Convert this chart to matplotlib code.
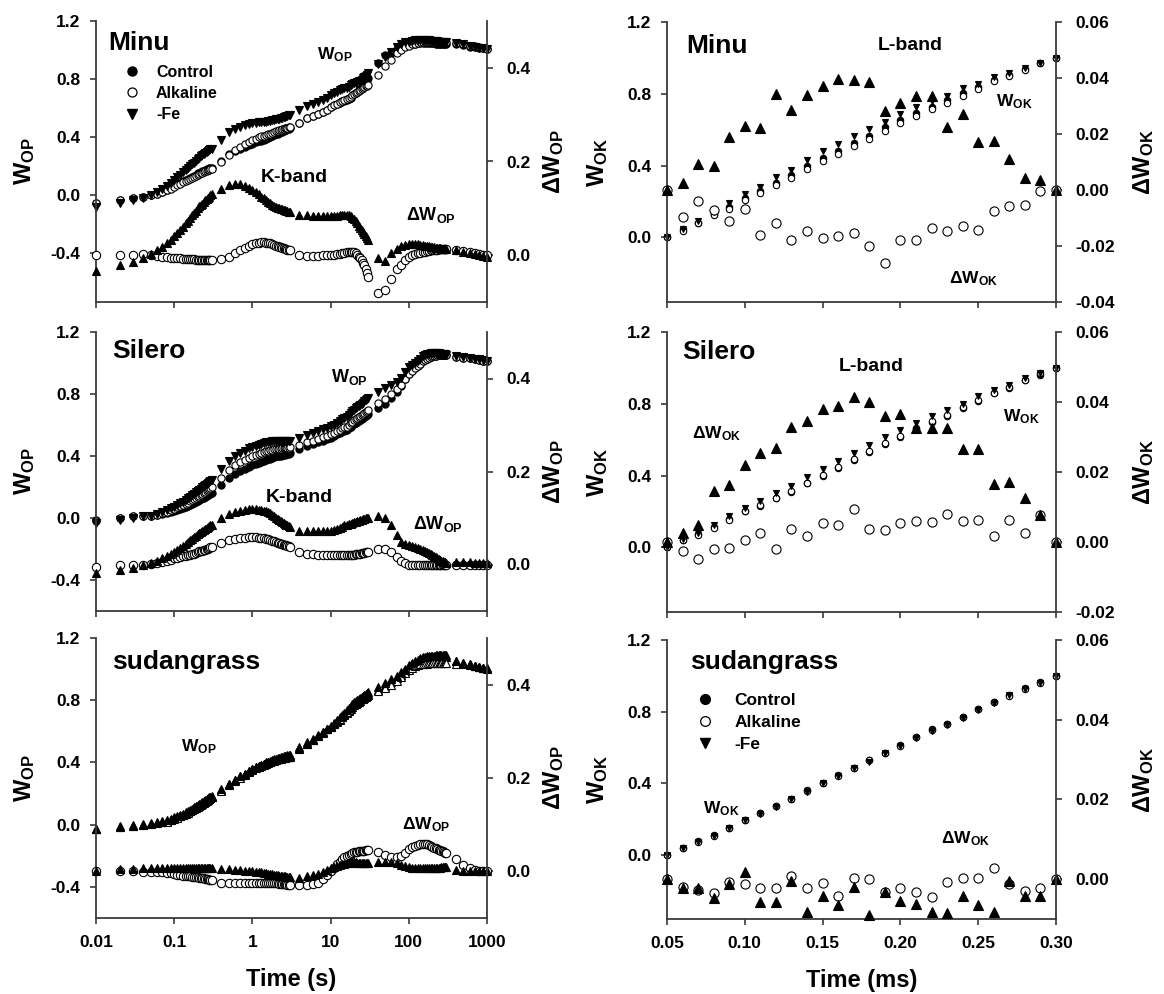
import matplotlib
matplotlib.use('Agg')
import matplotlib.pyplot as plt
from matplotlib.lines import Line2D
from matplotlib.ticker import FixedLocator, FixedFormatter, NullLocator

plt.rcParams['font.family'] = ['Liberation Sans', 'DejaVu Sans']
plt.rcParams['font.weight'] = 'bold'
plt.rcParams['mathtext.fontset'] = 'custom'
plt.rcParams['mathtext.rm'] = 'Liberation Sans'
plt.rcParams['mathtext.bf'] = 'Liberation Sans:bold'
plt.rcParams['mathtext.it'] = 'Liberation Sans:bold'

# ---------------- data: O-P phase (left column), time in the units of the axis label
time_op = [0.01, 0.02, 0.03, 0.04, 0.05, 0.06, 0.07, 0.08, 0.09, 0.10,
           0.11, 0.12, 0.13, 0.14, 0.15, 0.16, 0.17, 0.18, 0.19, 0.20,
           0.21, 0.22, 0.23, 0.24, 0.25, 0.26, 0.27, 0.28, 0.29, 0.30,
           0.4, 0.5, 0.6, 0.7, 0.8, 0.9, 1.0, 1.1, 1.2, 1.3, 1.4, 1.5, 1.6, 1.7,
           1.8, 1.9, 2.0, 2.1, 2.2, 2.3, 2.4, 2.5, 2.6, 2.7, 2.8, 2.9, 3.0,
           4, 5, 6, 7, 8, 9, 10, 11, 12, 13, 14, 15, 16, 17, 18, 19, 20,
           21, 22, 23, 24, 25, 26, 27, 28, 29, 30,
           40, 50, 60, 70, 80, 90, 100, 110, 120, 130, 140, 150, 160, 170,
           180, 190, 200, 210, 220, 230, 240, 250, 260, 270, 280, 290, 300,
           400, 500, 600, 700, 800, 900, 1000]

minu_wop_control = [
    -0.05, -0.03, -0.02, -0.012, 0.0, 0.012, 0.023, 0.039, 0.05, 0.066,
    0.077, 0.087, 0.098, 0.108, 0.114, 0.119, 0.129, 0.134, 0.14, 0.15,
    0.155, 0.16, 0.165, 0.17, 0.175, 0.18, 0.182, 0.185, 0.188, 0.19,
    0.239, 0.283, 0.306, 0.32, 0.335, 0.345, 0.356, 0.364, 0.373, 0.377,
    0.382, 0.388, 0.394, 0.40, 0.407, 0.413, 0.42, 0.424, 0.428, 0.433,
    0.437, 0.441, 0.446, 0.45, 0.454, 0.457, 0.46,
    0.50, 0.532, 0.547, 0.561, 0.575, 0.59, 0.61, 0.619, 0.628, 0.637,
    0.646, 0.65, 0.654, 0.663, 0.673, 0.683, 0.694, 0.701, 0.709, 0.723,
    0.731, 0.74, 0.756, 0.767, 0.78, 0.793, 0.806,
    0.91, 0.965, 0.98, 1.01, 1.02, 1.03, 1.033, 1.04, 1.043, 1.046,
    1.047, 1.049, 1.048, 1.048, 1.047, 1.047, 1.047, 1.046, 1.045, 1.045,
    1.043, 1.043, 1.043, 1.042, 1.042, 1.042, 1.042,
    1.04, 1.032, 1.024, 1.021, 1.017, 1.014, 1.01]
minu_wop_alkaline = [
    -0.05, -0.03, -0.02, -0.01, 0.0, 0.01, 0.02, 0.035, 0.045, 0.06,
    0.07, 0.08, 0.09, 0.10, 0.105, 0.11, 0.12, 0.125, 0.13, 0.14,
    0.145, 0.15, 0.155, 0.16, 0.165, 0.17, 0.172, 0.175, 0.178, 0.18,
    0.23, 0.28, 0.31, 0.33, 0.35, 0.365, 0.38, 0.39, 0.40, 0.405,
    0.41, 0.415, 0.42, 0.425, 0.43, 0.435, 0.44, 0.443, 0.446, 0.45,
    0.453, 0.456, 0.46, 0.463, 0.466, 0.468, 0.47,
    0.50, 0.53, 0.545, 0.56, 0.575, 0.59, 0.61, 0.62, 0.63, 0.64,
    0.65, 0.655, 0.66, 0.67, 0.68, 0.69, 0.70, 0.705, 0.71, 0.72,
    0.725, 0.73, 0.74, 0.745, 0.75, 0.755, 0.76,
    0.83, 0.89, 0.93, 0.98, 1.0, 1.02, 1.03, 1.04, 1.045, 1.05,
    1.052, 1.055, 1.055, 1.056, 1.056, 1.057, 1.057, 1.057, 1.057, 1.057,
    1.056, 1.056, 1.056, 1.055, 1.055, 1.055, 1.055,
    1.05, 1.04, 1.03, 1.025, 1.02, 1.015, 1.01]
minu_wop_fe = [
    -0.084, -0.052, -0.034, -0.017, 0.002, 0.022, 0.041, 0.064, 0.082, 0.106,
    0.124, 0.141, 0.159, 0.176, 0.188, 0.199, 0.214, 0.224, 0.235, 0.25,
    0.259, 0.267, 0.275, 0.284, 0.292, 0.30, 0.305, 0.31, 0.316, 0.32,
    0.381, 0.433, 0.459, 0.471, 0.483, 0.489, 0.495, 0.498, 0.503, 0.502,
    0.503, 0.505, 0.508, 0.511, 0.515, 0.518, 0.523, 0.525, 0.528, 0.532,
    0.535, 0.538, 0.542, 0.545, 0.548, 0.55, 0.552,
    0.586, 0.617, 0.631, 0.645, 0.658, 0.673, 0.693, 0.702, 0.712, 0.722,
    0.732, 0.736, 0.74, 0.748, 0.756, 0.763, 0.772, 0.774, 0.777, 0.786,
    0.789, 0.793, 0.805, 0.812, 0.821, 0.83, 0.839,
    0.905, 0.953, 0.984, 1.024, 1.04, 1.052, 1.057, 1.064, 1.066, 1.069,
    1.069, 1.07, 1.068, 1.068, 1.066, 1.065, 1.064, 1.063, 1.061, 1.061,
    1.058, 1.058, 1.057, 1.056, 1.056, 1.055, 1.055,
    1.05, 1.039, 1.028, 1.023, 1.017, 1.012, 1.007]
minu_dwop_alkaline = [
    0.0, 0.0, 0.0, 0.002, 0.0, -0.002, -0.003, -0.004, -0.005, -0.006,
    -0.007, -0.007, -0.008, -0.008, -0.008, -0.009, -0.009, -0.009, -0.01, -0.01,
    -0.01, -0.01, -0.01, -0.01, -0.01, -0.01, -0.01, -0.01, -0.01, -0.01,
    -0.009, -0.003, 0.004, 0.01, 0.015, 0.02, 0.024, 0.026, 0.027, 0.028,
    0.028, 0.027, 0.026, 0.025, 0.023, 0.022, 0.02, 0.019, 0.018, 0.017,
    0.016, 0.015, 0.014, 0.013, 0.012, 0.011, 0.01,
    0.0, -0.002, -0.002, -0.001, 0.0, 0.0, 0.0, 0.001, 0.002, 0.003,
    0.004, 0.005, 0.006, 0.007, 0.007, 0.007, 0.006, 0.004, 0.001, -0.003,
    -0.006, -0.01, -0.016, -0.022, -0.03, -0.038, -0.046,
    -0.08, -0.075, -0.05, -0.03, -0.02, -0.01, -0.003, 0.0, 0.002, 0.004,
    0.005, 0.006, 0.007, 0.008, 0.009, 0.01, 0.01, 0.011, 0.012, 0.012,
    0.013, 0.013, 0.013, 0.013, 0.013, 0.013, 0.013,
    0.01, 0.008, 0.006, 0.004, 0.003, 0.001, 0.0]
minu_dwop_fe = [
    -0.034, -0.022, -0.014, -0.005, 0.002, 0.01, 0.018, 0.025, 0.032, 0.04,
    0.047, 0.054, 0.061, 0.068, 0.074, 0.08, 0.085, 0.09, 0.095, 0.10,
    0.104, 0.107, 0.11, 0.114, 0.117, 0.12, 0.123, 0.125, 0.128, 0.13,
    0.142, 0.15, 0.153, 0.151, 0.148, 0.144, 0.139, 0.134, 0.13, 0.125,
    0.121, 0.117, 0.114, 0.111, 0.108, 0.105, 0.103, 0.101, 0.1, 0.099,
    0.098, 0.097, 0.096, 0.095, 0.094, 0.093, 0.092,
    0.086, 0.085, 0.084, 0.084, 0.083, 0.083, 0.083, 0.083, 0.084, 0.085,
    0.086, 0.086, 0.086, 0.085, 0.083, 0.08, 0.078, 0.073, 0.068, 0.063,
    0.058, 0.053, 0.049, 0.045, 0.041, 0.037, 0.033,
    -0.005, -0.012, 0.004, 0.014, 0.02, 0.022, 0.024, 0.024, 0.023, 0.023,
    0.022, 0.021, 0.02, 0.02, 0.019, 0.018, 0.017, 0.017, 0.016, 0.016,
    0.015, 0.015, 0.014, 0.014, 0.014, 0.013, 0.013,
    0.01, 0.007, 0.004, 0.002, 0.0, -0.002, -0.003]

silero_wop_control = [
    -0.015, 0.0, 0.01, 0.01, 0.012, 0.017, 0.025, 0.033, 0.04, 0.047,
    0.053, 0.06, 0.066, 0.073, 0.08, 0.086, 0.092, 0.098, 0.103, 0.108,
    0.114, 0.12, 0.126, 0.131, 0.136, 0.141, 0.146, 0.152, 0.157, 0.162,
    0.213, 0.258, 0.285, 0.303, 0.317, 0.331, 0.341, 0.348, 0.356, 0.363,
    0.369, 0.375, 0.379, 0.383, 0.388, 0.392, 0.397, 0.399, 0.401, 0.403,
    0.405, 0.407, 0.409, 0.411, 0.413, 0.415, 0.417,
    0.443, 0.467, 0.478, 0.489, 0.499, 0.509, 0.519, 0.529, 0.539, 0.549,
    0.559, 0.564, 0.569, 0.579, 0.589, 0.599, 0.609, 0.615, 0.622, 0.628,
    0.635, 0.641, 0.648, 0.654, 0.66, 0.667, 0.673,
    0.712, 0.737, 0.773, 0.814, 0.853, 0.897, 0.93, 0.951, 0.966, 0.981,
    0.996, 1.011, 1.021, 1.028, 1.035, 1.04, 1.045, 1.047, 1.048, 1.049,
    1.05, 1.05, 1.05, 1.05, 1.05, 1.05, 1.05,
    1.04, 1.035, 1.03, 1.025, 1.02, 1.015, 1.01]
silero_wop_alkaline = [
    -0.02, 0.0, 0.01, 0.01, 0.013, 0.02, 0.03, 0.04, 0.05, 0.06,
    0.068, 0.076, 0.084, 0.092, 0.1, 0.107, 0.114, 0.121, 0.128, 0.135,
    0.142, 0.149, 0.156, 0.162, 0.168, 0.174, 0.18, 0.187, 0.194, 0.20,
    0.26, 0.31, 0.34, 0.36, 0.375, 0.39, 0.40, 0.407, 0.414, 0.42,
    0.425, 0.43, 0.433, 0.436, 0.439, 0.442, 0.445, 0.446, 0.447, 0.448,
    0.449, 0.45, 0.451, 0.452, 0.453, 0.454, 0.455,
    0.47, 0.49, 0.50, 0.51, 0.52, 0.53, 0.54, 0.55, 0.56, 0.57,
    0.58, 0.585, 0.59, 0.60, 0.61, 0.62, 0.63, 0.637, 0.644, 0.651,
    0.658, 0.665, 0.672, 0.679, 0.686, 0.693, 0.70,
    0.745, 0.77, 0.80, 0.83, 0.86, 0.9, 0.93, 0.95, 0.965, 0.98,
    0.995, 1.01, 1.02, 1.028, 1.035, 1.04, 1.045, 1.047, 1.048, 1.049,
    1.05, 1.05, 1.05, 1.05, 1.05, 1.05, 1.05,
    1.04, 1.035, 1.03, 1.025, 1.02, 1.015, 1.01]
silero_wop_fe = [
    -0.034, -0.012, 0.003, 0.01, 0.016, 0.025, 0.038, 0.051, 0.062, 0.074,
    0.084, 0.096, 0.106, 0.117, 0.128, 0.138, 0.147, 0.157, 0.165, 0.174,
    0.182, 0.19, 0.198, 0.205, 0.212, 0.219, 0.226, 0.234, 0.241, 0.247,
    0.313, 0.367, 0.398, 0.419, 0.435, 0.45, 0.46, 0.467, 0.474, 0.48,
    0.485, 0.489, 0.491, 0.493, 0.495, 0.496, 0.497, 0.497, 0.498, 0.498,
    0.498, 0.498, 0.499, 0.499, 0.499, 0.5, 0.5,
    0.514, 0.538, 0.55, 0.561, 0.571, 0.582, 0.592, 0.603, 0.615, 0.627,
    0.64, 0.648, 0.654, 0.666, 0.677, 0.689, 0.7, 0.707, 0.715, 0.722,
    0.73, 0.737, 0.745, 0.752, 0.759, 0.767, 0.773,
    0.816, 0.837, 0.857, 0.877, 0.901, 0.941, 0.971, 0.99, 1.003, 1.016,
    1.029, 1.042, 1.05, 1.055, 1.06, 1.062, 1.065, 1.065, 1.064, 1.063,
    1.062, 1.06, 1.058, 1.057, 1.056, 1.055, 1.054,
    1.046, 1.041, 1.035, 1.029, 1.024, 1.018, 1.013]
silero_dwop_alkaline = [
    -0.005, 0.0, 0.0, 0.0, 0.001, 0.003, 0.005, 0.007, 0.01, 0.013,
    0.015, 0.016, 0.018, 0.019, 0.02, 0.021, 0.022, 0.023, 0.025, 0.027,
    0.028, 0.029, 0.03, 0.031, 0.032, 0.033, 0.034, 0.035, 0.037, 0.038,
    0.047, 0.052, 0.055, 0.057, 0.058, 0.059, 0.059, 0.059, 0.058, 0.057,
    0.056, 0.055, 0.054, 0.053, 0.051, 0.05, 0.048, 0.047, 0.046, 0.045,
    0.044, 0.043, 0.042, 0.041, 0.04, 0.039, 0.038,
    0.027, 0.023, 0.022, 0.021, 0.021, 0.021, 0.021, 0.021, 0.021, 0.021,
    0.021, 0.021, 0.021, 0.021, 0.021, 0.021, 0.021, 0.022, 0.022, 0.023,
    0.023, 0.024, 0.024, 0.025, 0.026, 0.026, 0.027,
    0.033, 0.033, 0.027, 0.016, 0.007, 0.003, 0.0, -0.001, -0.001, -0.001,
    -0.001, -0.001, -0.001, 0.0, 0.0, 0.0, 0.0, 0.0, 0.0, 0.0,
    0.0, 0.0, 0.0, 0.0, 0.0, 0.0, 0.0,
    0.0, 0.0, 0.0, 0.0, 0.0, 0.0, 0.0]
silero_dwop_fe = [
    -0.019, -0.012, -0.007, 0.0, 0.004, 0.008, 0.013, 0.018, 0.022, 0.027,
    0.031, 0.036, 0.04, 0.044, 0.048, 0.052, 0.055, 0.059, 0.062, 0.066,
    0.068, 0.07, 0.072, 0.074, 0.076, 0.078, 0.08, 0.082, 0.084, 0.085,
    0.1, 0.109, 0.113, 0.116, 0.118, 0.119, 0.119, 0.119, 0.118, 0.117,
    0.116, 0.114, 0.112, 0.11, 0.107, 0.104, 0.1, 0.098, 0.096, 0.094,
    0.092, 0.09, 0.088, 0.086, 0.084, 0.082, 0.08,
    0.071, 0.071, 0.072, 0.072, 0.072, 0.073, 0.073, 0.074, 0.076, 0.078,
    0.081, 0.084, 0.085, 0.087, 0.088, 0.09, 0.091, 0.092, 0.093, 0.094,
    0.095, 0.096, 0.097, 0.098, 0.099, 0.1, 0.1,
    0.104, 0.10, 0.084, 0.063, 0.048, 0.044, 0.041, 0.039, 0.037, 0.035,
    0.033, 0.031, 0.029, 0.027, 0.025, 0.022, 0.02, 0.018, 0.016, 0.014,
    0.012, 0.01, 0.008, 0.007, 0.006, 0.005, 0.004,
    0.006, 0.006, 0.005, 0.004, 0.004, 0.003, 0.003]

sudan_wop_control = [
    -0.03, -0.015, -0.01, 0.0, 0.005, 0.01, 0.015, 0.022, 0.03, 0.04,
    0.048, 0.056, 0.064, 0.072, 0.08, 0.088, 0.096, 0.104, 0.112, 0.12,
    0.126, 0.132, 0.138, 0.144, 0.15, 0.156, 0.162, 0.168, 0.174, 0.18,
    0.225, 0.26, 0.287, 0.31, 0.327, 0.344, 0.36, 0.37, 0.378, 0.386,
    0.393, 0.40, 0.405, 0.41, 0.415, 0.42, 0.425, 0.428, 0.431, 0.434,
    0.437, 0.44, 0.442, 0.444, 0.446, 0.448, 0.45,
    0.50, 0.53, 0.553, 0.575, 0.595, 0.613, 0.63, 0.645, 0.66, 0.675,
    0.69, 0.705, 0.718, 0.731, 0.744, 0.757, 0.77, 0.777, 0.784, 0.791,
    0.798, 0.805, 0.811, 0.817, 0.823, 0.829, 0.835,
    0.865, 0.89, 0.915, 0.94, 0.965, 0.99, 1.015, 1.03, 1.042, 1.052,
    1.062, 1.07, 1.073, 1.076, 1.078, 1.079, 1.08, 1.08, 1.08, 1.08,
    1.08, 1.08, 1.08, 1.08, 1.08, 1.08, 1.08,
    1.05, 1.04, 1.03, 1.022, 1.015, 1.01, 1.005]
sudan_wop_alkaline = [
    -0.03, -0.015, -0.01, -0.001, 0.004, 0.009, 0.014, 0.02, 0.028, 0.037,
    0.045, 0.053, 0.061, 0.069, 0.077, 0.085, 0.093, 0.101, 0.109, 0.116,
    0.122, 0.128, 0.134, 0.14, 0.146, 0.152, 0.158, 0.164, 0.17, 0.175,
    0.218, 0.252, 0.279, 0.302, 0.319, 0.336, 0.352, 0.362, 0.37, 0.378,
    0.385, 0.392, 0.397, 0.402, 0.407, 0.412, 0.417, 0.42, 0.423, 0.426,
    0.429, 0.432, 0.434, 0.436, 0.438, 0.44, 0.442,
    0.49, 0.52, 0.545, 0.57, 0.592, 0.612, 0.63, 0.647, 0.664, 0.68,
    0.696, 0.712, 0.726, 0.74, 0.754, 0.767, 0.78, 0.787, 0.794, 0.801,
    0.808, 0.815, 0.82, 0.825, 0.83, 0.835, 0.84,
    0.86, 0.88, 0.9, 0.925, 0.95, 0.975, 0.995, 1.008, 1.018, 1.025,
    1.03, 1.033, 1.035, 1.036, 1.037, 1.037, 1.037, 1.037, 1.037, 1.037,
    1.037, 1.037, 1.037, 1.037, 1.037, 1.037, 1.037,
    1.035, 1.03, 1.025, 1.02, 1.013, 1.008, 1.003]
sudan_wop_fe = [
    -0.03, -0.011, -0.004, 0.007, 0.012, 0.017, 0.022, 0.029, 0.037, 0.047,
    0.055, 0.063, 0.071, 0.079, 0.087, 0.095, 0.103, 0.111, 0.119, 0.127,
    0.133, 0.139, 0.145, 0.151, 0.157, 0.163, 0.169, 0.175, 0.181, 0.187,
    0.23, 0.264, 0.29, 0.312, 0.328, 0.344, 0.36, 0.369, 0.376, 0.384,
    0.39, 0.396, 0.40, 0.405, 0.409, 0.413, 0.417, 0.42, 0.422, 0.424,
    0.427, 0.429, 0.431, 0.432, 0.434, 0.435, 0.437,
    0.486, 0.519, 0.545, 0.569, 0.593, 0.616, 0.637, 0.655, 0.672, 0.689,
    0.705, 0.721, 0.735, 0.749, 0.762, 0.776, 0.789, 0.796, 0.802, 0.809,
    0.816, 0.823, 0.828, 0.834, 0.84, 0.846, 0.852,
    0.884, 0.911, 0.934, 0.957, 0.979, 1.001, 1.024, 1.038, 1.05, 1.059,
    1.069, 1.077, 1.08, 1.083, 1.085, 1.086, 1.087, 1.087, 1.088, 1.088,
    1.088, 1.088, 1.089, 1.089, 1.089, 1.089, 1.089,
    1.053, 1.041, 1.03, 1.022, 1.015, 1.01, 1.005]
sudan_dwop_alkaline = [
    0.0, 0.001, 0.001, -0.001, -0.001, -0.002, -0.002, -0.003, -0.004, -0.006,
    -0.007, -0.008, -0.009, -0.01, -0.011, -0.011, -0.012, -0.012, -0.013, -0.013,
    -0.014, -0.014, -0.015, -0.015, -0.016, -0.016, -0.017, -0.018, -0.018, -0.019,
    -0.024, -0.026, -0.026, -0.026, -0.026, -0.025, -0.024, -0.024, -0.024, -0.024,
    -0.025, -0.025, -0.025, -0.025, -0.025, -0.026, -0.026, -0.026, -0.027, -0.027,
    -0.027, -0.028, -0.028, -0.028, -0.029, -0.029, -0.029,
    -0.029, -0.029, -0.028, -0.024, -0.016, -0.008, 0.0, 0.008, 0.016, 0.021,
    0.026, 0.03, 0.033, 0.036, 0.038, 0.04, 0.041, 0.042, 0.042, 0.043,
    0.043, 0.044, 0.044, 0.044, 0.045, 0.045, 0.045,
    0.041, 0.036, 0.03, 0.03, 0.033, 0.04, 0.048, 0.052, 0.055, 0.057,
    0.058, 0.059, 0.059, 0.058, 0.056, 0.054, 0.052, 0.05, 0.049, 0.048,
    0.046, 0.045, 0.044, 0.043, 0.041, 0.04, 0.039,
    0.027, 0.014, 0.007, 0.003, 0.001, 0.0, 0.0]
sudan_dwop_fe = [
    0.0, 0.004, 0.006, 0.007, 0.008, 0.008, 0.008, 0.008, 0.008, 0.008,
    0.008, 0.008, 0.008, 0.008, 0.008, 0.008, 0.008, 0.008, 0.008, 0.008,
    0.008, 0.008, 0.008, 0.008, 0.008, 0.008, 0.008, 0.007, 0.007, 0.007,
    0.005, 0.004, 0.003, 0.002, 0.001, 0.0, 0.0, -0.001, -0.002, -0.002,
    -0.003, -0.004, -0.005, -0.005, -0.006, -0.007, -0.008, -0.008, -0.009, -0.01,
    -0.01, -0.011, -0.011, -0.012, -0.012, -0.013, -0.013,
    -0.014, -0.011, -0.008, -0.006, -0.002, 0.003, 0.007, 0.01, 0.012, 0.014,
    0.015, 0.016, 0.017, 0.018, 0.018, 0.019, 0.019, 0.019, 0.018, 0.018,
    0.018, 0.018, 0.017, 0.017, 0.017, 0.017, 0.017,
    0.019, 0.021, 0.019, 0.017, 0.014, 0.011, 0.009, 0.008, 0.008, 0.007,
    0.007, 0.007, 0.007, 0.007, 0.007, 0.007, 0.007, 0.007, 0.008, 0.008,
    0.008, 0.008, 0.009, 0.009, 0.009, 0.009, 0.009,
    0.003, 0.001, 0.0, 0.0, 0.0, 0.0, 0.0]

# ---------------- data: O-K phase (right column)
time_ok = [0.05, 0.06, 0.07, 0.08, 0.09, 0.10, 0.11, 0.12, 0.13, 0.14, 0.15, 0.16, 0.17,
           0.18, 0.19, 0.20, 0.21, 0.22, 0.23, 0.24, 0.25, 0.26, 0.27, 0.28, 0.29, 0.30]

minu_wok_control = [0.0, 0.047, 0.082, 0.132, 0.171, 0.217, 0.261, 0.302, 0.348, 0.395, 0.442, 0.482, 0.526,
                    0.567, 0.616, 0.654, 0.692, 0.728, 0.765, 0.803, 0.84, 0.877, 0.906, 0.939, 0.97, 1.0]
minu_wok_alkaline = [0.0, 0.037, 0.078, 0.125, 0.16, 0.21, 0.245, 0.29, 0.33, 0.38, 0.425, 0.465, 0.51,
                     0.547, 0.59, 0.636, 0.674, 0.714, 0.75, 0.79, 0.826, 0.87, 0.90, 0.934, 0.97, 1.0]
minu_wok_fe = [0.0, 0.049, 0.091, 0.141, 0.19, 0.24, 0.283, 0.336, 0.377, 0.429, 0.479, 0.522, 0.565,
               0.606, 0.644, 0.685, 0.726, 0.762, 0.787, 0.83, 0.857, 0.895, 0.917, 0.943, 0.974, 1.0]
minu_dwok_alkaline = [0.0, -0.0096, -0.0038, -0.0072, -0.011, -0.0069, -0.016, -0.0117, -0.018, -0.0146,
                      -0.017, -0.0165, -0.0155, -0.020, -0.026, -0.018, -0.0177, -0.0137, -0.0146, -0.0129,
                      -0.0143, -0.0074, -0.0057, -0.0054, -0.0004, 0.0]
minu_dwok_fe = [0.0, 0.0024, 0.0093, 0.0086, 0.0189, 0.0229, 0.0223, 0.0344, 0.0287, 0.034, 0.0373, 0.0398,
                0.0394, 0.0386, 0.0283, 0.031, 0.0337, 0.0337, 0.0224, 0.0272, 0.0171, 0.0176, 0.011,
                0.0042, 0.0036, 0.0]

silero_wok_control = [0.0, 0.043, 0.075, 0.112, 0.157, 0.2, 0.232, 0.277, 0.311, 0.358, 0.4, 0.445, 0.486,
                      0.531, 0.577, 0.615, 0.659, 0.699, 0.732, 0.774, 0.814, 0.858, 0.889, 0.932, 0.962, 1.0]
silero_wok_alkaline = [0.0, 0.04, 0.07, 0.11, 0.155, 0.20, 0.235, 0.275, 0.315, 0.36, 0.405, 0.45, 0.495,
                       0.535, 0.58, 0.62, 0.665, 0.705, 0.74, 0.78, 0.82, 0.86, 0.895, 0.935, 0.97, 1.0]
silero_wok_fe = [0.0, 0.046, 0.08, 0.127, 0.173, 0.222, 0.257, 0.304, 0.344, 0.393, 0.438, 0.484, 0.527,
                 0.571, 0.613, 0.652, 0.692, 0.732, 0.765, 0.801, 0.841, 0.875, 0.906, 0.945, 0.97, 1.0]
silero_dwok_alkaline = [0.0, -0.0027, -0.0048, -0.002, -0.0016, 0.0005, 0.0027, -0.002, 0.0038, 0.0017,
                        0.0054, 0.005, 0.0093, 0.0038, 0.0033, 0.0054, 0.006, 0.0057, 0.0081, 0.006,
                        0.0064, 0.0017, 0.0062, 0.0026, 0.0076, 0.0]
silero_dwok_fe = [0.0, 0.0027, 0.005, 0.0145, 0.0164, 0.022, 0.0253, 0.027, 0.033, 0.0346, 0.038, 0.0389,
                  0.0413, 0.040, 0.036, 0.0366, 0.0326, 0.0325, 0.0326, 0.0265, 0.0267, 0.0167, 0.0172,
                  0.0126, 0.0076, 0.0]

sudan_wok_control = [0.0, 0.037, 0.074, 0.11, 0.15, 0.193, 0.235, 0.272, 0.31, 0.36, 0.402, 0.445, 0.486,
                     0.528, 0.569, 0.612, 0.658, 0.70, 0.732, 0.77, 0.814, 0.853, 0.89, 0.93, 0.964, 1.0]
sudan_wok_alkaline = [0.0, 0.035, 0.071, 0.106, 0.149, 0.192, 0.233, 0.27, 0.311, 0.358, 0.401, 0.441, 0.486,
                      0.528, 0.566, 0.61, 0.655, 0.696, 0.731, 0.77, 0.814, 0.856, 0.889, 0.927, 0.962, 1.0]
sudan_wok_fe = [0.0, 0.035, 0.072, 0.105, 0.149, 0.195, 0.229, 0.266, 0.31, 0.352, 0.398, 0.439, 0.484,
                0.519, 0.566, 0.607, 0.652, 0.692, 0.724, 0.766, 0.808, 0.845, 0.89, 0.926, 0.96, 1.0]
sudan_dwok_alkaline = [0.0, -0.0019, -0.0027, -0.0036, -0.0006, -0.0011, -0.0023, -0.0023, 0.0007, -0.0021,
                       -0.001, -0.0042, 0.0004, 0.0, -0.0033, -0.0021, -0.0032, -0.0044, -0.0008, 0.0002,
                       0.0004, 0.0027, -0.0012, -0.0029, -0.0021, 0.0]
sudan_dwok_fe = [0.0, -0.0021, -0.0023, -0.0048, -0.0011, 0.0019, -0.0057, -0.0058, -0.0004, -0.0082,
                 -0.0042, -0.0065, -0.0019, -0.009, -0.0033, -0.0054, -0.0062, -0.0082, -0.0085, -0.0042,
                 -0.0065, -0.0082, -0.0004, -0.0042, -0.0042, 0.0]

op_ticks = [0.01, 0.1, 1, 10, 100, 1000]
op_ticklabels = ['0.01', '0.1', '1', '10', '100', '1000']
ok_ticks = [0.05, 0.10, 0.15, 0.20, 0.25, 0.30]
ok_ticklabels = ['0.05', '0.10', '0.15', '0.20', '0.25', '0.30']

# ---------------- layout
W, H = 1164, 994
SPINE = '#3a3a3a'
fig = plt.figure(figsize=(W / 100, H / 100), dpi=100)


def rect(x0, x1, y0, y1):
    return [x0 / W, 1 - y1 / H, (x1 - x0) / W, (y1 - y0) / H]


def fx(px):
    return px / W


def fy(py):
    return 1 - py / H


def style(ax, ax2):
    for a in (ax, ax2):
        a.spines['top'].set_visible(False)
        for s in a.spines.values():
            s.set_color(SPINE)
            s.set_linewidth(1.3)
    ax.spines['right'].set_visible(False)
    ax2.spines['left'].set_visible(False)
    ax2.spines['bottom'].set_visible(False)
    ax.tick_params(axis='y', direction='out', length=4, width=1.2, color=SPINE, pad=7, labelsize=12.5)
    ax.tick_params(axis='x', direction='out', length=4, width=1.2, color=SPINE, pad=8, labelsize=12.5)
    ax2.tick_params(axis='y', direction='out', length=4, width=1.2, color=SPINE, pad=10, labelsize=12.5)
    ax.xaxis.set_minor_locator(NullLocator())


def pts(a, x, y, marker, ms, filled, **kw):
    a.plot(x, y, linestyle='none', marker=marker, ms=ms,
           mfc='black' if filled else 'white', mec='black', mew=0.8, clip_on=False, **kw)


def ylabels(ax, ax2, left_text, right_text, xl, xr):
    ax.set_ylabel(left_text, fontsize=17, va='center')
    ax.yaxis.set_label_coords(xl, 0.5)
    ax2.set_ylabel(right_text, fontsize=17, rotation=90, va='center')
    ax2.yaxis.set_label_coords(xr, 0.5)


def op_panel(rowbox, ctrl, alk, fe, dalk, dfe, wlim, wmarkers, bottom):
    ax = fig.add_axes(rect(96, 487, *rowbox))
    ax2 = ax.twinx()
    mc, ma, mf = wmarkers
    pts(ax, time_op, ctrl, mc, 5.2, True)
    pts(ax, time_op, alk, ma, 5.2, False)
    pts(ax, time_op, fe, mf, 5.2, True)
    pts(ax2, time_op, dalk, 'o', 6.0, False)
    pts(ax2, time_op, dfe, '^', 6.0, True)
    ax.set_xscale('log')
    ax.set_xlim(0.01, 1000)
    ax.set_ylim(*wlim)
    ax2.set_ylim(-0.1, 0.5)
    ax.yaxis.set_major_locator(FixedLocator([-0.4, 0.0, 0.4, 0.8, 1.2]))
    ax.yaxis.set_major_formatter(FixedFormatter(['-0.4', '0.0', '0.4', '0.8', '1.2']))
    ax2.yaxis.set_major_locator(FixedLocator([0.0, 0.2, 0.4]))
    ax2.yaxis.set_major_formatter(FixedFormatter(['0.0', '0.2', '0.4']))
    ax.xaxis.set_major_locator(FixedLocator(op_ticks))
    style(ax, ax2)
    if bottom:
        ax.xaxis.set_major_formatter(FixedFormatter(op_ticklabels))
        ax.set_xlabel('Time (s)', fontsize=17, fontweight='bold', labelpad=13)
    else:
        ax.xaxis.set_major_formatter(FixedFormatter([''] * 6))
    ylabels(ax, ax2, r'$\mathbf{W_{OP}}$', r'$\Delta\mathbf{W_{OP}}$',
            -(96 - 25) / 391, (554 - 96) / 391)
    return ax, ax2


def ok_panel(rowbox, ctrl, alk, fe, dalk, dfe, dlim, dticks, bottom):
    ax = fig.add_axes(rect(667, 1056, *rowbox))
    ax2 = ax.twinx()
    pts(ax, time_ok, ctrl, 'o', 4.6, True)
    pts(ax, time_ok, alk, 'o', 4.6, False)
    pts(ax, time_ok, fe, 'v', 4.6, True)
    pts(ax2, time_ok, dalk, 'o', 6.6, False)
    pts(ax2, time_ok, dfe, '^', 6.6, True)
    ax.set_xlim(0.05, 0.30)
    ax.set_ylim(-0.36, 1.2)
    ax2.set_ylim(*dlim)
    ax.yaxis.set_major_locator(FixedLocator([0.0, 0.4, 0.8, 1.2]))
    ax.yaxis.set_major_formatter(FixedFormatter(['0.0', '0.4', '0.8', '1.2']))
    ax2.yaxis.set_major_locator(FixedLocator(dticks))
    ax2.yaxis.set_major_formatter(FixedFormatter(['%.2f' % v for v in dticks]))
    ax.xaxis.set_major_locator(FixedLocator(ok_ticks))
    style(ax, ax2)
    if bottom:
        ax.xaxis.set_major_formatter(FixedFormatter(ok_ticklabels))
        ax.set_xlabel('Time (ms)', fontsize=17, fontweight='bold', labelpad=13)
    else:
        ax.xaxis.set_major_formatter(FixedFormatter([''] * 6))
    ylabels(ax, ax2, r'$\mathbf{W_{OK}}$', r'$\Delta\mathbf{W_{OK}}$',
            -(667 - 598) / 389, (1144 - 667) / 389)
    return ax, ax2


op_panel((21, 302), minu_wop_control, minu_wop_alkaline, minu_wop_fe,
         minu_dwop_alkaline, minu_dwop_fe, (-0.735, 1.2), ('o', 'o', 'v'), False)
op_panel((332, 611), silero_wop_control, silero_wop_alkaline, silero_wop_fe,
         silero_dwop_alkaline, silero_dwop_fe, (-0.6, 1.2), ('o', 'o', 'v'), False)
op_panel((638, 918), sudan_wop_control, sudan_wop_alkaline, sudan_wop_fe,
         sudan_dwop_alkaline, sudan_dwop_fe, (-0.6, 1.2), ('^', '^', '^'), True)

ok_panel((22, 302), minu_wok_control, minu_wok_alkaline, minu_wok_fe,
         minu_dwok_alkaline, minu_dwok_fe, (-0.04, 0.06), [-0.04, -0.02, 0.0, 0.02, 0.04, 0.06], False)
ok_panel((332, 612), silero_wok_control, silero_wok_alkaline, silero_wok_fe,
         silero_dwok_alkaline, silero_dwok_fe, (-0.02, 0.06), [-0.02, 0.0, 0.02, 0.04, 0.06], False)
ok_panel((640, 919), sudan_wok_control, sudan_wok_alkaline, sudan_wok_fe,
         sudan_dwok_alkaline, sudan_dwok_fe, (-0.01, 0.06), [0.0, 0.02, 0.04, 0.06], True)


# ---------------- in-panel texts
def label(px, py, s, size):
    fig.text(fx(px), fy(py), s, fontsize=size, fontweight='bold', ha='left', va='center')


WOP = r'$\mathbf{W_{OP}}$'
DWOP = r'$\Delta\mathbf{W_{OP}}$'
WOK = r'$\mathbf{W_{OK}}$'
DWOK = r'$\Delta\mathbf{W_{OK}}$'

label(108, 43, 'Minu', 19)
label(317, 55, WOP, 12.5)
label(261, 178, 'K-band', 14)
label(406, 215, DWOP, 13)

label(686, 46, 'Minu', 19)
label(878, 46, 'L-band', 14)
label(996, 102, WOK, 12.5)
label(949, 279, DWOK, 12.5)

label(112, 351, 'Silero', 19)
label(331, 377, WOP, 13)
label(266, 498, 'K-band', 14)
label(413, 524, DWOP, 13)

label(682, 352, 'Silero', 19)
label(839, 367, 'L-band', 14)
label(692, 434, DWOK, 12.5)
label(1003, 417, WOK, 12.5)

label(112, 662, 'sudangrass', 19)
label(181, 747, WOP, 12.5)
label(402, 825, DWOP, 12.5)

label(690, 662, 'sudangrass', 19)
label(703, 809, WOK, 12.5)
label(941, 839, DWOK, 12.5)

# ---------------- legends
legend_labels = ['Control', 'Alkaline', '-Fe']


def handles(ms):
    return [Line2D([], [], linestyle='none', marker='o', ms=ms, mfc='black', mec='black'),
            Line2D([], [], linestyle='none', marker='o', ms=ms, mfc='white', mec='black', mew=0.9),
            Line2D([], [], linestyle='none', marker='v', ms=ms, mfc='black', mec='black')]


fig.legend(handles(6.5), legend_labels, loc='upper left', bbox_to_anchor=(fx(124), fy(65)),
           frameon=False, fontsize=11.5, handlelength=1.0, handletextpad=1.0,
           labelspacing=0.38, borderpad=0, borderaxespad=0)
fig.legend(handles(7.0), legend_labels, loc='upper left', bbox_to_anchor=(fx(696), fy(693)),
           frameon=False, fontsize=12.5, handlelength=1.0, handletextpad=1.2,
           labelspacing=0.38, borderpad=0, borderaxespad=0)

fig.savefig('out.png', dpi=100)
